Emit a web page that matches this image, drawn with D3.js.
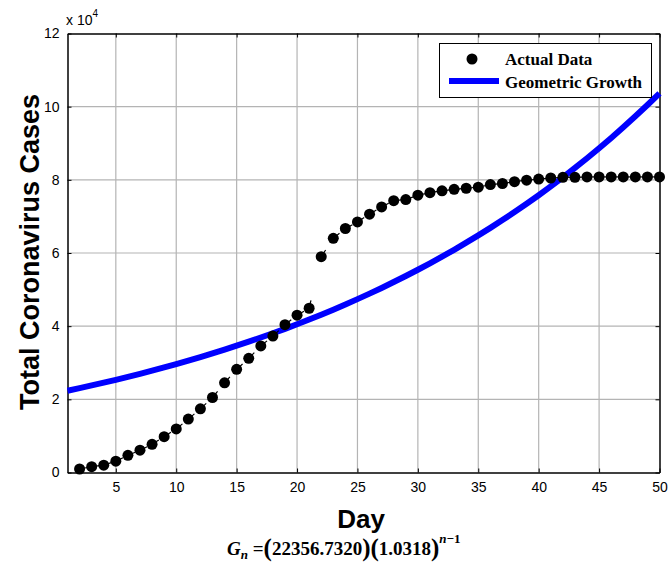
<!DOCTYPE html>
<html><head><meta charset="utf-8">
<script src="https://cdn.jsdelivr.net/npm/d3@7"></script>
<style>body{margin:0;background:#fff}svg{display:block}</style>
</head><body>
<script>
// Data
const days = d3.range(2, 51);
const actualCases = [960,1600,2000,3100,4700,6100,7700,9800,11900,14600,17400,20500,24500,28200,31200,34600,37300,40400,43000,44900,59000,64000,66700,68500,70600,72600,74300,74600,75800,76500,77000,77400,77700,78000,78700,79000,79500,79900,80200,80500,80700,80700,80800,80800,80800,80800,80800,80800,80800];
const growthDays = d3.range(1, 51);
const growthCases = [22357,23068,23801,24558,25339,26145,26976,27834,28719,29632,30575,31547,32550,33585,34653,35755,36892,38066,39276,40525,41814,43143,44515,45931,47392,48899,50454,52058,53713,55422,57184,59002,60879,62815,64812,66873,69000,71194,73458,75794,78204,80691,83257,85904,88636,91455,94363,97364,100460,103655];
const xTicks = [5,10,15,20,25,30,35,40,45,50];
const yTicks = [0,20000,40000,60000,80000,100000,120000];
const yTickLabels = ["0","2","4","6","8","10","12"];

const W = 668, H = 566;
const svg = d3.select("body").append("svg").attr("width", W).attr("height", H);
const x = d3.scaleLinear().domain([1, 50]).range([67.5, 659.5]);
const y = d3.scaleLinear().domain([0, 120000]).range([472.5, 33.5]);

// grid
const grid = svg.append("g").attr("stroke", "#b4b4b4").attr("stroke-width", 1.2);
grid.selectAll("line.gx").data(xTicks.filter(d => d < 50)).join("line")
  .attr("x1", d => x(d)).attr("x2", d => x(d)).attr("y1", y(0)).attr("y2", y(120000));
grid.selectAll("line.gy").data(yTicks.filter(d => d > 0 && d < 120000)).join("line")
  .attr("y1", d => y(d)).attr("y2", d => y(d)).attr("x1", x(1)).attr("x2", x(50));

// axes
const xAxis = d3.axisBottom(x).tickValues(xTicks).tickSizeInner(-4).tickSizeOuter(0).tickPadding(10);
svg.append("g").attr("transform", `translate(0,${y(0)})`).call(xAxis);
const yAxis = d3.axisLeft(y).tickValues(yTicks).tickFormat((d, i) => yTickLabels[i]).tickSizeInner(-4).tickSizeOuter(0).tickPadding(8);
svg.append("g").attr("transform", `translate(${x(1)},0)`).call(yAxis);
const xAxisTop = d3.axisTop(x).tickValues(xTicks).tickSizeInner(-4).tickSizeOuter(0).tickFormat("");
svg.append("g").attr("transform", `translate(0,${y(120000)})`).call(xAxisTop);
const yAxisRight = d3.axisRight(y).tickValues(yTicks).tickSizeInner(-4).tickSizeOuter(0).tickFormat("");
svg.append("g").attr("transform", `translate(${x(50)},0)`).call(yAxisRight);
svg.selectAll(".domain").attr("stroke", "#000").attr("stroke-width", 1.5);
svg.selectAll(".tick line").attr("stroke", "#000");
svg.selectAll(".tick text").attr("font-family", "Liberation Sans, Arial, sans-serif").attr("font-size", 14).attr("fill", "#000");

// multiplier
const mult = svg.append("text").attr("x", 66).attr("y", 25).attr("font-family", "Liberation Sans, Arial, sans-serif").attr("font-size", 14);
mult.append("tspan").text("x 10");
mult.append("tspan").attr("dy", -8).attr("font-size", 10).text("4");

// geometric growth line
svg.append("path").datum(growthDays.map((d, i) => [d, growthCases[i]]))
  .attr("fill", "none").attr("stroke", "#0000ff").attr("stroke-width", 6)
  .attr("d", d3.line().x(d => x(d[0])).y(d => y(d[1])));

// actual data: short dash tails + dots
const pts = days.map((d, i) => [d, actualCases[i]]);
const segs = svg.append("g");
for (let i = 0; i < pts.length - 1; i++) {
  segs.append("line")
    .attr("x1", x(pts[i][0])).attr("y1", y(pts[i][1]))
    .attr("x2", x(pts[i+1][0])).attr("y2", y(pts[i+1][1]))
    .attr("stroke", "#000").attr("stroke-width", 1.2).attr("stroke-dasharray", "8,200");
}
svg.append("g").selectAll("circle").data(pts).join("circle")
  .attr("cx", d => x(d[0])).attr("cy", d => y(d[1])).attr("r", 5.5).attr("fill", "#000");

// legend
const lg = svg.append("g");
lg.append("rect").attr("x", 439.5).attr("y", 43.5).attr("width", 212).attr("height", 54)
  .attr("fill", "#fff").attr("stroke", "#000").attr("stroke-width", 1);
lg.append("circle").attr("cx", 472).attr("cy", 59).attr("r", 5.5).attr("fill", "#000");
lg.append("line").attr("x1", 449).attr("x2", 499).attr("y1", 81).attr("y2", 81).attr("stroke", "#0000ff").attr("stroke-width", 6);
lg.append("text").attr("x", 505).attr("y", 65).text("Actual Data")
  .attr("font-family", "Liberation Serif, Times New Roman, serif").attr("font-weight", "bold").attr("font-size", 17);
lg.append("text").attr("x", 505).attr("y", 88).text("Geometric Growth")
  .attr("font-family", "Liberation Serif, Times New Roman, serif").attr("font-weight", "bold").attr("font-size", 17);

// axis labels
svg.append("text").attr("x", 361).attr("y", 528).attr("text-anchor", "middle")
  .attr("font-family", "Liberation Sans, Arial, sans-serif").attr("font-weight", "bold").attr("font-size", 26).text("Day");
svg.append("text").attr("transform", `translate(39,252) rotate(-90)`).attr("text-anchor", "middle")
  .attr("font-family", "Liberation Sans, Arial, sans-serif").attr("font-weight", "bold").attr("font-size", 27).text("Total Coronavirus Cases");

// formula
const f = svg.append("text").attr("x", 227).attr("y", 555)
  .attr("font-family", "Liberation Serif, Times New Roman, serif").attr("font-weight", "bold").attr("font-size", 19);
f.append("tspan").attr("font-style", "italic").text("G");
f.append("tspan").attr("font-style", "italic").attr("font-size", 13).attr("dy", 4).text("n");
f.append("tspan").attr("dy", -4).text(" =");
f.append("tspan").attr("font-size", 25).attr("dy", 1).text("(");
f.append("tspan").attr("dy", -1).text("22356.7320");
f.append("tspan").attr("font-size", 25).attr("dy", 1).text(")(");
f.append("tspan").attr("dy", -1).text("1.0318");
f.append("tspan").attr("font-size", 25).attr("dy", 1).text(")");
f.append("tspan").attr("font-style", "italic").attr("font-size", 13).attr("dy", -13).text("n");
f.append("tspan").attr("font-size", 13).text("\u22121");
</script>
</body></html>
